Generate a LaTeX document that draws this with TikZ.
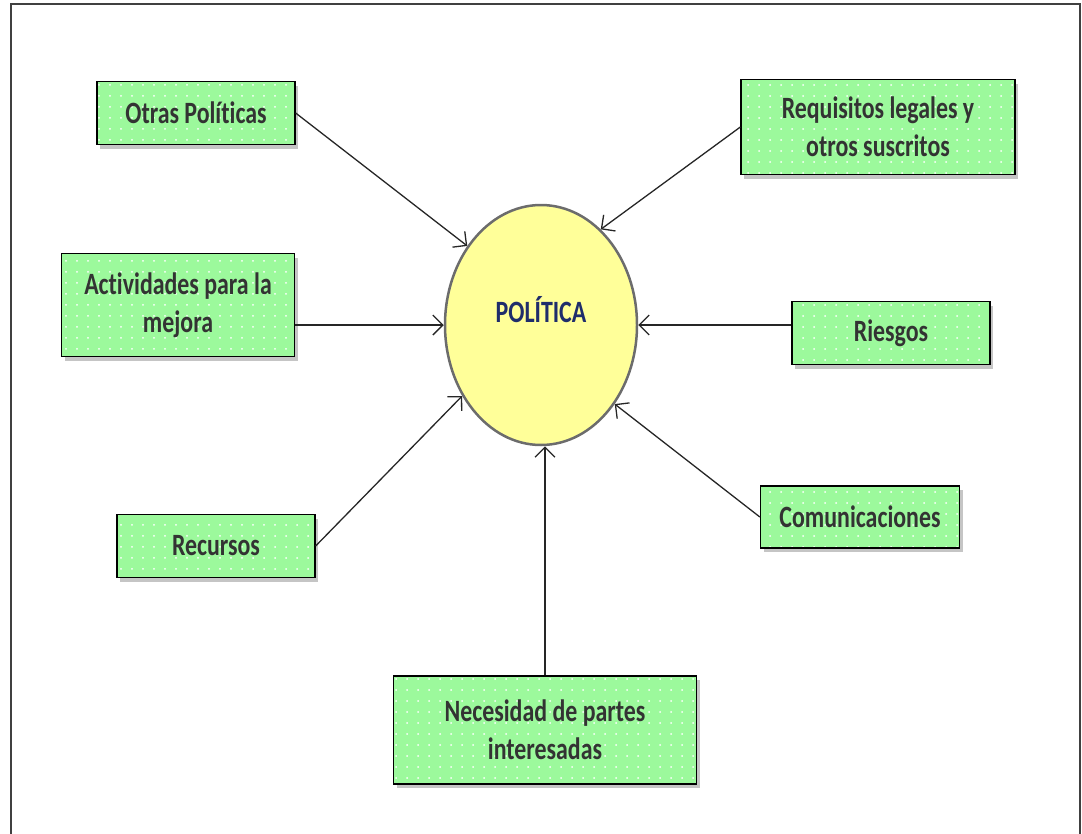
\documentclass[tikz,border=0pt]{standalone}
\usepackage{fontspec}
\setmainfont{Carlito}[FakeStretch=0.77,Ligatures=NoCommon]
\usetikzlibrary{shapes.geometric,shadows,patterns.meta,arrows.meta}
\definecolor{verdecaja}{HTML}{9CF99C}
\definecolor{amarillo}{HTML}{FFFF99}
\definecolor{gristexto}{HTML}{333333}
\definecolor{azultexto}{HTML}{1F2D6B}
\begin{document}
\begin{tikzpicture}[x=1pt,y=-1pt,
    caja/.style={draw=black,line width=1.3pt,
      drop shadow={shadow xshift=3pt,shadow yshift=-4pt,fill=black!45},
      preaction={fill=verdecaja},
      preaction={pattern={Dots[distance=11pt,radius=1pt]},pattern color=white},
      font=\fontsize{31}{38}\selectfont\bfseries,text=gristexto,align=center,inner sep=0pt},
    flecha/.style={line width=1.3pt,draw=black!85,-{Straight Barb[length=10pt,width=20pt]}},
  ]
\useasboundingbox (0,0) rectangle (1082,833);
\clip (0,0) rectangle (1082,833);
\draw[black!75,line width=1.5pt] (11,4) rectangle (1080,845);

\node[ellipse,draw=gray!85!black,line width=2.5pt,fill=amarillo,minimum width=192pt,minimum height=240pt,inner sep=0pt,
  label={[font=\fontsize{31}{38}\selectfont\bfseries,text=azultexto,yshift=15pt]center:POLÍTICA}] (pol) at (541,325) {};

\node[caja,minimum width=198pt,minimum height=63pt] (otras) at (196,113) {Otras Políticas};
\node[caja,minimum width=274pt,minimum height=95pt] (req) at (878,127) {Requisitos legales y\\otros suscritos};
\node[caja,minimum width=233pt,minimum height=103pt] (act) at (178,305) {Actividades para la\\mejora};
\node[caja,minimum width=198pt,minimum height=63pt] (ries) at (891,333) {Riesgos};
\node[caja,minimum width=198pt,minimum height=63pt] (rec) at (216,546) {Recursos};
\node[caja,minimum width=199pt,minimum height=62pt] (com) at (860,517) {Comunicaciones};
\node[caja,minimum width=303pt,minimum height=108pt] (nec) at (545,730) {Necesidad de partes\\interesadas};

\draw[flecha] (otras.east) -- (pol.133);
\draw[flecha] (req.west) -- (pol.58);
\draw[flecha] (act.east |- pol.west) -- (pol.west);
\draw[flecha] (ries.west |- pol.east) -- (pol.east);
\draw[flecha] (rec.east) -- (pol.222);
\draw[flecha] (com.west) -- (pol.313);
\draw[flecha] (nec.north) -- (nec.north |- pol.south);

\end{tikzpicture}
\end{document}
